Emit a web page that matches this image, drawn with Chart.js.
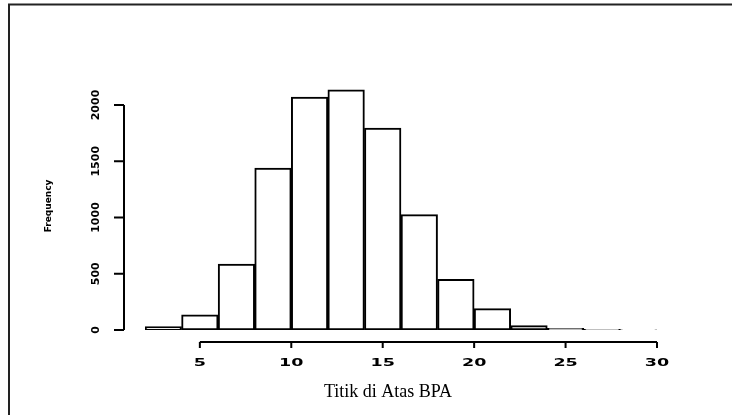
<!DOCTYPE html>
<html>
<head>
<meta charset="utf-8">
<script src="https://cdn.jsdelivr.net/npm/chart.js@4"></script>
<style>
  html, body { margin: 0; padding: 0; background: #fff; }
  #wrap { position: relative; width: 732px; height: 415px; }
</style>
</head>
<body>
<div id="wrap"><canvas id="chart" width="732" height="415"></canvas></div>
<script>
// histogram bins (width 2) and counts
const binStarts = [2, 4, 6, 8, 10, 12, 14, 16, 18, 20, 22, 24, 26, 28];
const counts = [30, 135, 585, 1440, 2070, 2135, 1795, 1025, 450, 190, 40, 15, 5, 2];
const xTicks = [5, 10, 15, 20, 25, 30];
const yTicks = [0, 500, 1000, 1500, 2000];
const xTitle = 'Titik di Atas BPA';
const yTitle = 'Frequency';

const binWidth = 2;
const bars = binStarts.map((s, i) => ({ x: s + binWidth / 2, y: counts[i] }));

// R style axes: detached lines, rotated y labels
const rAxes = {
    id: 'rAxes',
    beforeDraw(chart){
        const c = chart.ctx;
        c.save();
        c.strokeStyle = '#222';
        c.lineWidth = 2;
        c.beginPath();
        c.moveTo(9, 415); c.lineTo(9, 4.5); c.lineTo(732, 4.5);
        c.stroke();
        c.restore();
    },
    afterDraw(chart){
        const c = chart.ctx;
        const xs = chart.scales.x, ys = chart.scales.y;
        c.save();
        c.strokeStyle = '#000';
        c.fillStyle = '#000';
        c.lineWidth = 2;

        // y axis
        const ax = 124;
        c.beginPath();
        c.moveTo(ax, ys.getPixelForValue(yTicks[0]));
        c.lineTo(ax, ys.getPixelForValue(yTicks[yTicks.length - 1]));
        yTicks.forEach(v => {
            const py = ys.getPixelForValue(v);
            c.moveTo(ax - 10, py); c.lineTo(ax, py);
        });
        c.stroke();
        c.font = 'bold 11px "DejaVu Sans"';
        c.textAlign = 'center';
        c.textBaseline = 'middle';
        yTicks.forEach(v => {
            const py = ys.getPixelForValue(v);
            c.save();
            c.translate(96, py);
            c.rotate(-Math.PI / 2);
            c.fillText(String(v), 0, 0);
            c.restore();
        });

        // x axis
        const ay = 342;
        c.beginPath();
        c.moveTo(xs.getPixelForValue(xTicks[0]), ay);
        c.lineTo(xs.getPixelForValue(xTicks[xTicks.length - 1]), ay);
        xTicks.forEach(v => {
            const px = xs.getPixelForValue(v);
            c.moveTo(px, ay); c.lineTo(px, ay + 6);
        });
        c.stroke();
        c.font = 'bold 10px "DejaVu Sans"';
        xTicks.forEach(v => {
            const px = xs.getPixelForValue(v);
            c.save();
            c.translate(px, 363);
            c.scale(1.75, 1);
            c.fillText(String(v), 0, 0);
            c.restore();
        });

        // titles
        c.font = '18px "Liberation Serif"';
        c.fillText(xTitle, 388, 392);
        c.save();
        c.translate(49, 206);
        c.rotate(-Math.PI / 2);
        c.font = 'bold 9px "DejaVu Sans"';
        c.fillText(yTitle, 0, 0);
        c.restore();
        c.restore();
    }
};

new Chart(document.getElementById('chart'), {
    type: 'bar',
    data: {
        datasets: [{
            data: bars,
            backgroundColor: '#fff',
            borderColor: '#000',
            borderWidth: 2,
            borderSkipped: false,
            barPercentage: 1,
            categoryPercentage: 1
        }]
    },
    options: {
        responsive: false,
        animation: false,
        layout: { padding: { left: 145, right: 75, top: 60, bottom: 85 } },
        plugins: { legend: { display: false }, tooltip: { enabled: false } },
        scales: {
            x: { type: 'linear', min: 2, max: 30, offset: false, display: false },
            y: { min: 0, max: 2400, display: false }
        }
    },
    plugins: [rAxes]
});
</script>
</body>
</html>
